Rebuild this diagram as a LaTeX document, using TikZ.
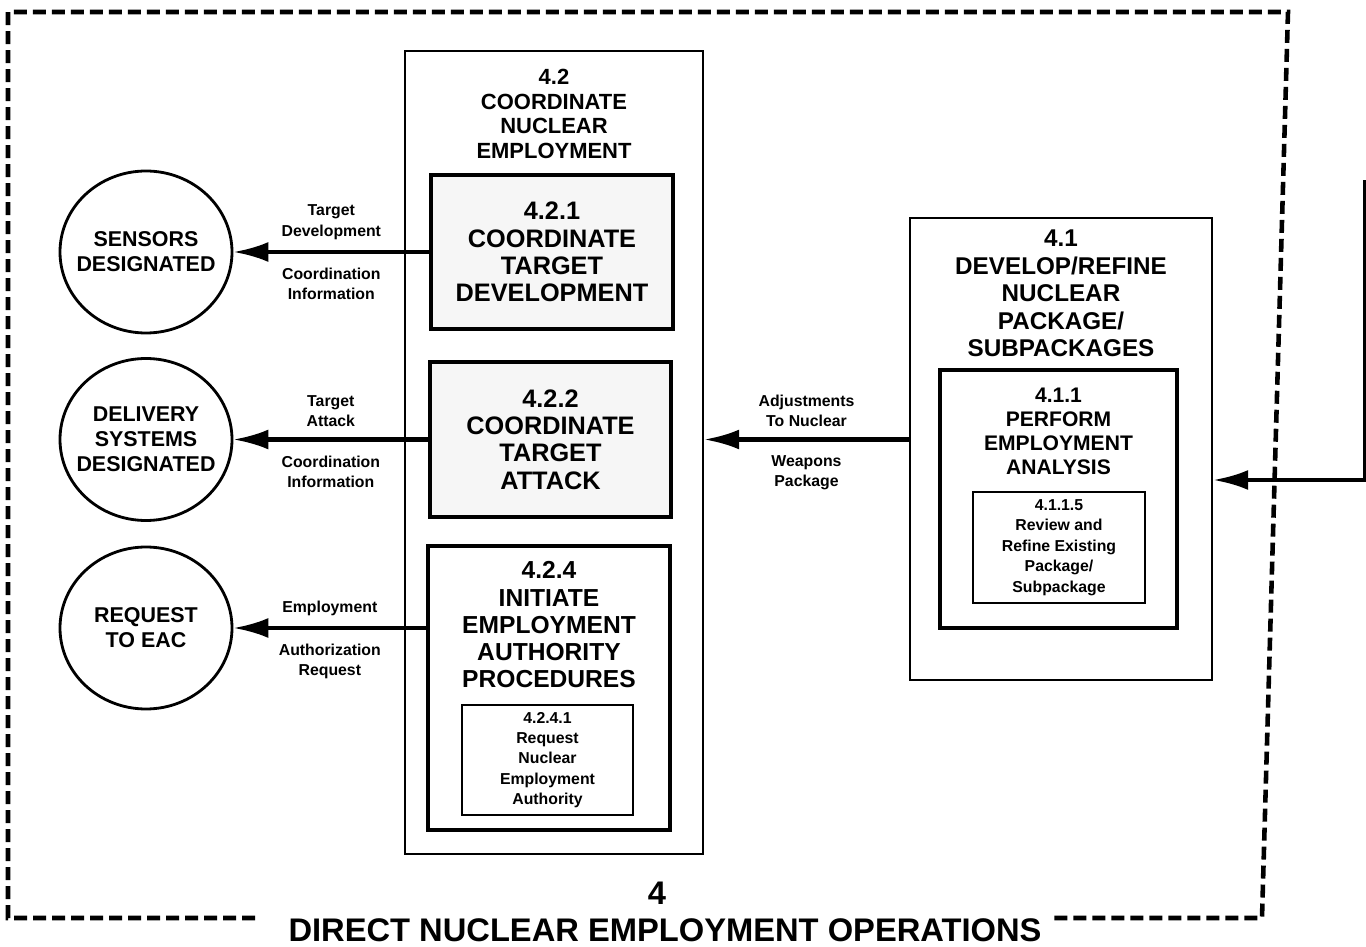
\documentclass[tikz,border=0pt]{standalone}
\usepackage{fontspec}
\setmainfont{Liberation Sans}
\usepackage{tikz}
\usetikzlibrary{positioning,shapes.geometric,arrows.meta}
\tikzstyle{mainbox} = [draw=black, line width=1.4pt, rectangle, inner sep=0pt]
\tikzstyle{taskbox} = [draw=black, line width=2pt, rectangle, inner sep=0pt,
    fill=gray!7, align=center, font=\bfseries\fontsize{14.4}{15.6}\selectfont]
\tikzstyle{stepbox} = [draw=black, line width=1.6pt, rectangle, inner sep=0pt,
    align=center, font=\bfseries\fontsize{9}{11.6}\selectfont]
\tikzstyle{boxtitle} = [inner sep=0pt, align=center]
\tikzstyle{extent} = [draw=black, line width=1.6pt, ellipse, inner ysep=0pt, inner xsep=-0.2cm,
    minimum width=3.44cm, minimum height=3.24cm, align=center,
    font=\bfseries\fontsize{12.2}{14.2}\selectfont]
\tikzstyle{flow} = [line width=2.3pt, -{Latex[length=7mm,width=4mm]}]
\tikzstyle{flowlabel} = [inner sep=0pt, align=center, font=\bfseries\fontsize{9}{11.6}\selectfont]
\tikzstyle{frame} = [line width=2.6pt, dash pattern=on 0.26cm off 0.12cm]
\tikzstyle{bigtitle} = [inner sep=0pt, font=\bfseries\fontsize{18.6}{20}\selectfont]

\begin{document}
\begin{tikzpicture}
                \useasboundingbox (0,0) rectangle (27.32,-18.94);
                % 4.2 and its tasks
                \node [mainbox, minimum width=5.96cm, minimum height=16.06cm] (box42) at (11.08,-9.05) {};
                \node [boxtitle, below=0.38cm, font=\bfseries\fontsize{12.5}{14}\selectfont] (title42) at (box42.north)
                    {4.2\\COORDINATE\\NUCLEAR\\EMPLOYMENT};
                \node [taskbox, minimum width=4.84cm, minimum height=3.08cm] (box421) at (11.04,-5.04)
                    {4.2.1\\COORDINATE\\TARGET\\DEVELOPMENT};
                \node [taskbox, minimum width=4.82cm, minimum height=3.10cm] (box422) at (11.01,-8.79)
                    {4.2.2\\COORDINATE\\TARGET\\ATTACK};
                \node [taskbox, fill=white, minimum width=4.84cm, minimum height=5.68cm] (box424) at (10.98,-13.76) {};
                \node [boxtitle, below=0.34cm, font=\bfseries\fontsize{14}{15.5}\selectfont] (title424) at (box424.north)
                    {4.2.4\\INITIATE\\EMPLOYMENT\\AUTHORITY\\PROCEDURES};
                \node [stepbox, minimum width=3.42cm, minimum height=2.2cm] (box4241) at (10.95,-15.2)
                    {4.2.4.1\\Request\\Nuclear\\Employment\\Authority};
                % 4.1 and its tasks
                \node [mainbox, minimum width=6.04cm, minimum height=9.24cm] (box41) at (21.22,-8.98) {};
                \node [boxtitle, below=0.26cm, font=\bfseries\fontsize{13.8}{15.6}\selectfont] (title41) at (box41.north)
                    {4.1\\DEVELOP/REFINE\\NUCLEAR\\PACKAGE/\\SUBPACKAGES};
                \node [mainbox, line width=2pt, minimum width=4.74cm, minimum height=5.16cm] (box411) at (21.17,-9.98) {};
                \node [boxtitle, below=0.38cm, font=\bfseries\fontsize{12}{13.8}\selectfont] (title411) at (box411.north)
                    {4.1.1\\PERFORM\\EMPLOYMENT\\ANALYSIS};
                \node [stepbox, minimum width=3.44cm, minimum height=2.22cm] (box4115) at (21.18,-10.95)
                    {4.1.1.5\\Review and\\Refine Existing\\Package/\\Subpackage};
                % outside entities
                \node [extent] (sensors) at (2.92,-5.04) {SENSORS\\DESIGNATED};
                \node [extent] (delivery) at (2.92,-8.79) {DELIVERY\\SYSTEMS\\DESIGNATED};
                \node [extent] (request) at (2.92,-12.56) {REQUEST\\TO EAC};
                % flows
                \draw [flow] (box421.west) -- node [flowlabel, above=6pt] (lbltarget) {Target\\Development}
                    node [flowlabel, below=8pt] (lblcoord) {Coordination\\Information} (sensors);
                \draw [flow] (box422.west) -- node [flowlabel, above=6pt] (lblattack) {Target\\Attack}
                    node [flowlabel, below=8pt] (lblcoordb) {Coordination\\Information} (delivery);
                \draw [flow] (request -| box424.west) -- node [flowlabel, above=6pt] (lblemploy) {Employment}
                    node [flowlabel, below=8pt] (lblauth) {Authorization\\Request} (request);
                \draw [flow] (box41.west |- box422) -- node [flowlabel, above=6pt] (lbladjust) {Adjustments\\To Nuclear}
                    node [flowlabel, below=8pt] (lblweapons) {Weapons\\Package} (box42.east |- box422);
                \coordinate (feedtop) at (27.3,-3.6);
                \coordinate (feedturn) at (27.3,-9.6);
                \draw [flow] (feedtop) -- (feedturn) -- (feedturn -| box41.east);
                % frame and title
                \node [bigtitle] (opnum) at (13.14,-17.86) {4};
                \node [bigtitle] (optitle) at (13.3,-18.6) {DIRECT NUCLEAR EMPLOYMENT OPERATIONS};
                \draw [frame] (5.1,-18.36) -- (0.16,-18.36) -- (0.16,-0.24) -- (25.76,-0.24) -- (25.24,-18.36) -- (21.0,-18.36);
            \end{tikzpicture}
\end{document}
